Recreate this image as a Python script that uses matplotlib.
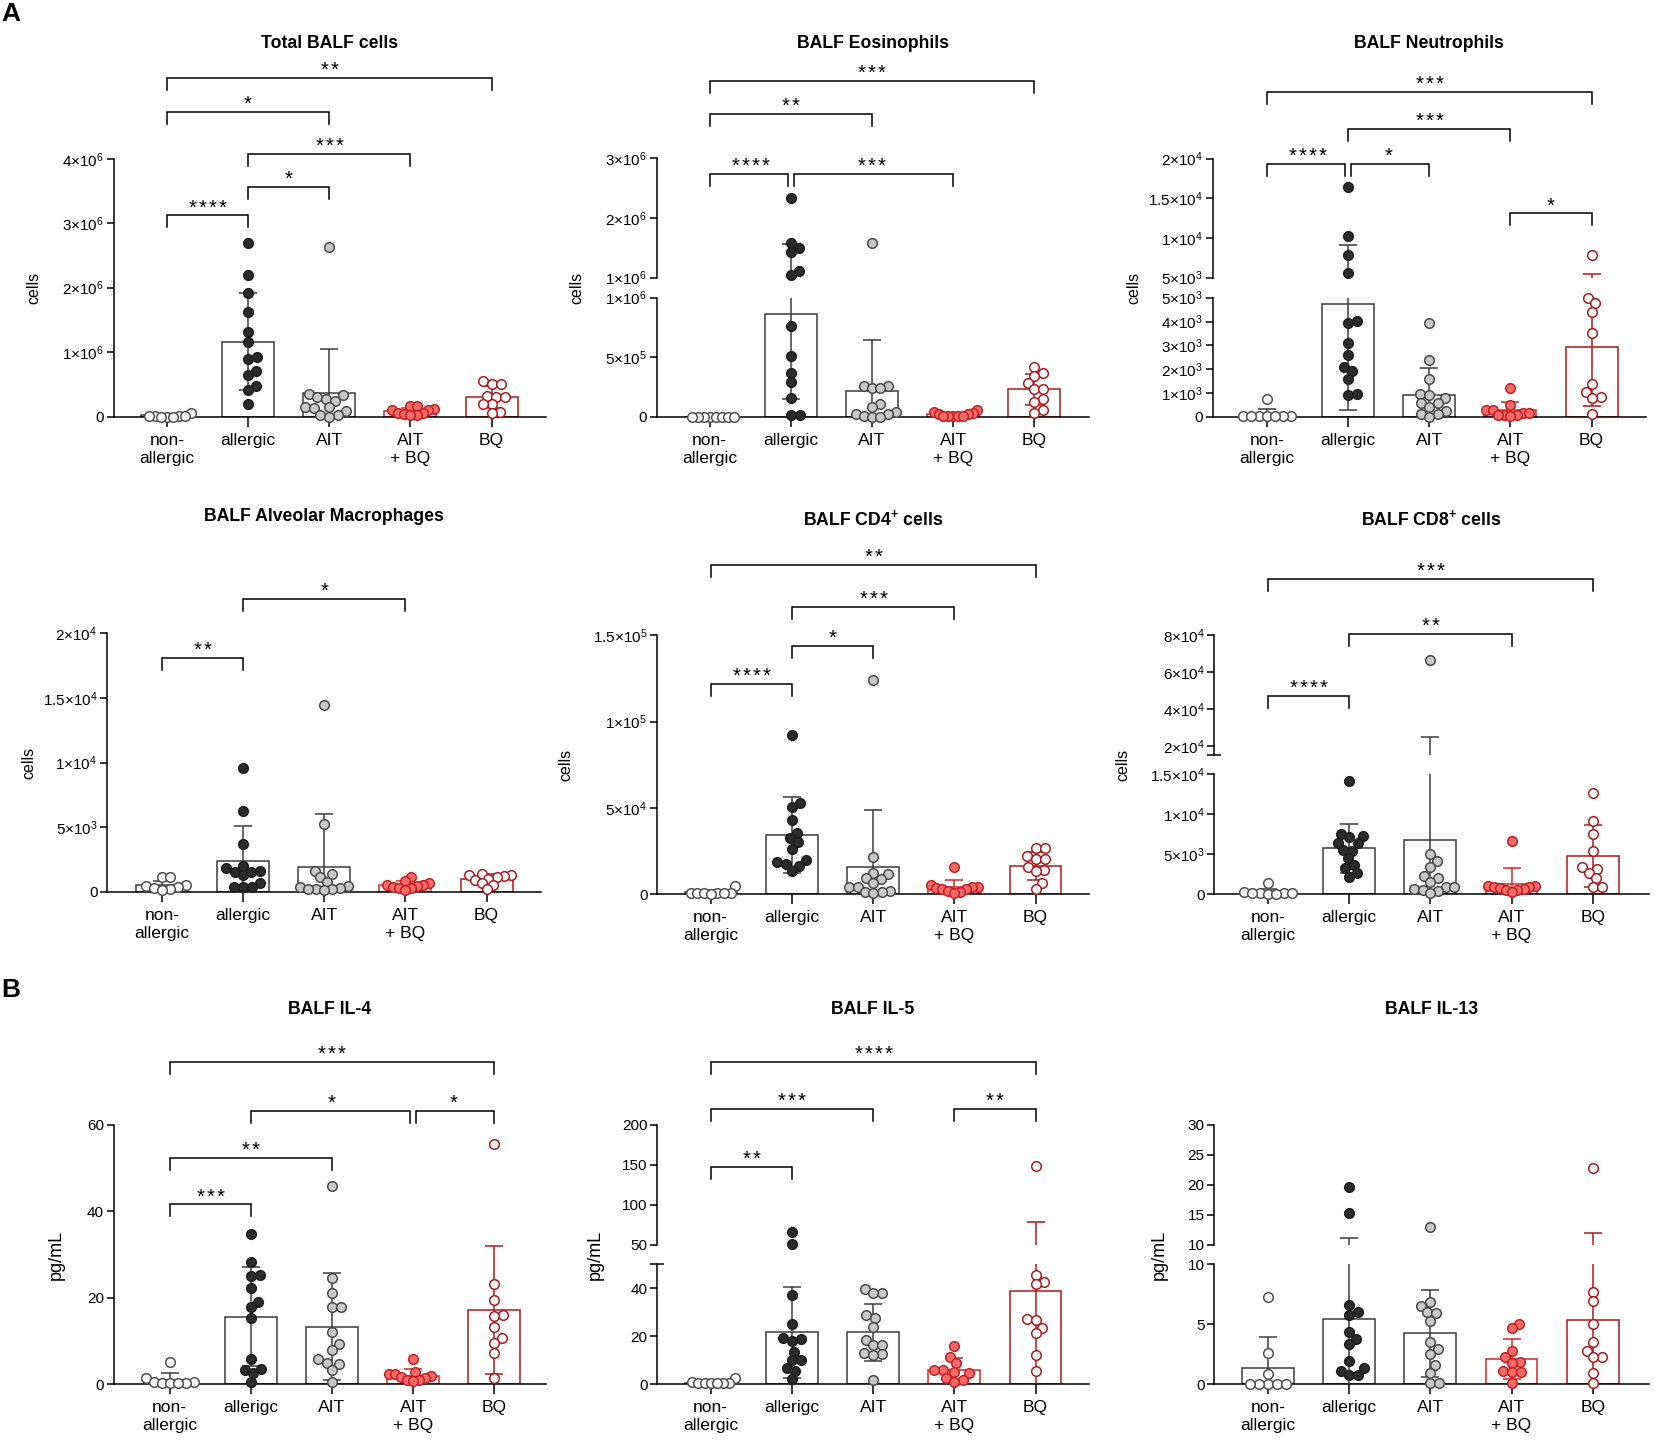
import numpy as np
import matplotlib
matplotlib.use('Agg')
import matplotlib.pyplot as plt

plt.rcParams['font.family'] = ['Liberation Sans', 'DejaVu Sans']
plt.rcParams['mathtext.fontset'] = 'custom'
plt.rcParams['mathtext.rm'] = 'Liberation Sans'
plt.rcParams['mathtext.it'] = 'Liberation Sans:italic'
plt.rcParams['mathtext.bf'] = 'Liberation Sans:bold'
plt.rcParams['axes.linewidth'] = 1.1

W, H = 1655, 1445
DC = 81.2  # px between categories

groups_cells = ['non-\nallergic', 'allergic', 'AIT', 'AIT\n+ BQ', 'BQ']
groups_cyto = ['non-\nallergic', 'allerigc', 'AIT', 'AIT\n+ BQ', 'BQ']

dot_face = ['white', '#2b2b2b', '#c8c8c8', '#f26b6b', 'white']
dot_edge = ['#505050', '#1e1e1e', '#4a4a4a', '#c81e1e', '#b0191e']
bar_edge = ['#3c3c3c', '#3c3c3c', '#3c3c3c', '#d02828', '#b0191e']

# ---------------- Total BALF cells
tot_non = [0.01e6, 0.05e6, 0.01e6, 0.0, 0.01e6, 0.0, 0.01e6, 0.0]
tot_all = [2.69e6, 2.20e6, 1.92e6, 1.62e6, 1.31e6, 1.16e6, 0.92e6, 0.89e6, 0.71e6, 0.64e6, 0.48e6, 0.42e6, 0.19e6]
tot_ait = [2.63e6, 0.35e6, 0.33e6, 0.30e6, 0.28e6, 0.25e6, 0.15e6, 0.15e6, 0.13e6, 0.09e6, 0.03e6, 0.03e6, 0.0]
tot_aitbq = [0.17e6, 0.17e6, 0.12e6, 0.10e6, 0.10e6, 0.05e6, 0.05e6, 0.04e6, 0.03e6, 0.02e6]
tot_bq = [0.55e6, 0.50e6, 0.50e6, 0.32e6, 0.31e6, 0.31e6, 0.19e6, 0.19e6, 0.08e6, 0.05e6]
tot_mean = [0.02e6, 1.165e6, 0.36e6, 0.09e6, 0.31e6]
tot_sd = [0.015e6, 0.75e6, 0.69e6, 0.05e6, 0.17e6]
tot_ticks = [[0, 1e6, 2e6, 3e6, 4e6]]
tot_brackets = [(0, 4, '**', 5.25e6), (0, 2, '*', 4.72e6), (1, 3, '***', 4.08e6),
                (1, 2, '*', 3.56e6), (0, 1, '****', 3.12e6)]

# ---------------- Eosinophils
eos_non = [0, 0, 0, 0, 0, 0, 0, 0]
eos_all = [2.335e6, 1.58e6, 1.49e6, 1.425e6, 1.117e6, 1.045e6, 0.762e6, 0.507e6, 0.37e6, 0.294e6, 0.154e6, 0.014e6, 0.014e6]
eos_ait = [1.58e6, 0.26e6, 0.26e6, 0.24e6, 0.24e6, 0.11e6, 0.08e6, 0.04e6, 0.02e6, 0.02e6, 0.01e6, 0.0, 0.0]
eos_aitbq = [0.06e6, 0.04e6, 0.03e6, 0.02e6, 0.02e6, 0.01e6, 0.01e6, 0.01e6, 0.01e6, 0.01e6]
eos_bq = [0.42e6, 0.37e6, 0.34e6, 0.28e6, 0.23e6, 0.23e6, 0.15e6, 0.12e6, 0.06e6, 0.03e6]
eos_mean = [0.0, 0.86e6, 0.216e6, 0.02e6, 0.23e6]
eos_sd = [0.0, 0.71e6, 0.43e6, 0.015e6, 0.13e6]
eos_ticks = [[0, 5e5, 1e6], [1e6, 2e6, 3e6]]
eos_brackets = [(0, 4, '***', 4.30e6), (0, 2, '**', 3.75e6), (0, 1, '****', 2.74e6), (1, 3, '***', 2.74e6)]

# ---------------- Neutrophils
neu_non = [730, 30, 30, 20, 20, 20, 10, 10]
neu_all = [16.4e3, 10.3e3, 7.8e3, 5.55e3, 4.03e3, 3.95e3, 3.11e3, 2.58e3, 2.09e3, 1.93e3, 1.6e3, 0.97e3, 0.92e3]
neu_ait = [3.95e3, 2.38e3, 1.58e3, 0.94e3, 0.91e3, 0.77e3, 0.56e3, 0.56e3, 0.42e3, 0.24e3, 0.10e3, 0.10e3, 0.0]
neu_aitbq = [1.22e3, 0.49e3, 0.30e3, 0.28e3, 0.14e3, 0.14e3, 0.07e3, 0.07e3, 0.06e3, 0.04e3]
neu_bq = [7.86e3, 5.0e3, 4.76e3, 4.41e3, 3.53e3, 1.36e3, 1.05e3, 0.81e3, 0.77e3, 0.1e3]
neu_mean = [110, 4.72e3, 0.91e3, 0.28e3, 2.94e3]
neu_sd = [230, 4.45e3, 1.13e3, 0.34e3, 2.5e3]
neu_ticks = [[0, 1e3, 2e3, 3e3, 4e3, 5e3], [5e3, 1e4, 1.5e4, 2e4]]
neu_brackets = [(0, 4, '***', 28.4e3), (1, 3, '***', 23.8e3), (0, 1, '****', 19.3e3),
                (1, 2, '*', 19.3e3), (3, 4, '*', 13.1e3)]

# ---------------- Alveolar macrophages
mac_non = [1.16e3, 1.16e3, 0.52e3, 0.44e3, 0.39e3, 0.26e3, 0.18e3, 0.13e3]
mac_all = [9.55e3, 6.27e3, 3.69e3, 2.01e3, 1.81e3, 1.63e3, 1.55e3, 1.55e3, 1.29e3, 0.70e3, 0.34e3, 0.34e3, 0.34e3]
mac_ait = [14.45e3, 5.24e3, 1.63e3, 1.34e3, 1.11e3, 0.77e3, 0.46e3, 0.34e3, 0.26e3, 0.20e3, 0.20e3, 0.18e3, 0.13e3]
mac_aitbq = [1.16e3, 0.85e3, 0.70e3, 0.52e3, 0.50e3, 0.46e3, 0.36e3, 0.30e3, 0.26e3, 0.10e3]
mac_bq = [1.4e3, 1.3e3, 1.3e3, 1.2e3, 1.1e3, 1.0e3, 0.9e3, 0.7e3, 0.5e3, 0.2e3]
mac_mean = [0.53e3, 2.37e3, 1.94e3, 0.55e3, 1.0e3]
mac_sd = [0.3e3, 2.7e3, 4.07e3, 0.3e3, 0.35e3]
mac_ticks = [[0, 5e3, 1e4, 1.5e4, 2e4]]
mac_brackets = [(1, 3, '*', 22.65e3), (0, 1, '**', 18.1e3)]

# ---------------- CD4+ cells
cd4_non = [4.6e3, 0.5e3, 0.5e3, 0.4e3, 0.3e3, 0.3e3, 0.3e3, 0.2e3]
cd4_all = [92.4e3, 52.6e3, 50.5e3, 42.7e3, 35.6e3, 32.3e3, 30.2e3, 26.3e3, 19.7e3, 18.8e3, 17.2e3, 16.4e3, 13.5e3]
cd4_ait = [124.3e3, 21.7e3, 12.4e3, 11.4e3, 9.1e3, 8.5e3, 6.2e3, 4.3e3, 3.9e3, 1.9e3, 1.0e3, 1.0e3, 0.4e3]
cd4_aitbq = [15.5e3, 5.2e3, 4.3e3, 3.9e3, 3.3e3, 2.7e3, 2.7e3, 1.9e3, 1.4e3, 0.5e3]
cd4_bq = [26.5e3, 26.5e3, 22.2e3, 20.3e3, 20.3e3, 15.9e3, 13.9e3, 13.5e3, 6.6e3, 3.1e3]
cd4_mean = [0.9e3, 34.2e3, 15.7e3, 4.2e3, 16.4e3]
cd4_sd = [1.5e3, 21.8e3, 33.2e3, 4.1e3, 8.2e3]
cd4_ticks = [[0, 5e4, 1e5, 1.5e5]]
cd4_brackets = [(0, 4, '**', 190.9e3), (1, 3, '***', 166.4e3), (1, 2, '*', 143.8e3), (0, 1, '****', 121.6e3)]

# ---------------- CD8+ cells
cd8_non = [1.34e3, 0.2e3, 0.1e3, 0.1e3, 0.1e3, 0.1e3, 0.05e3, 0.05e3]
cd8_all = [14.1e3, 7.52e3, 7.27e3, 7.1e3, 6.43e3, 6.35e3, 5.5e3, 5.43e3, 4.47e3, 3.64e3, 3.2e3, 2.6e3, 2.17e3]
cd8_ait = [66.5e3, 5.0e3, 4.18e3, 3.43e3, 2.26e3, 1.96e3, 1.55e3, 0.84e3, 0.84e3, 0.58e3, 0.5e3, 0.42e3, 0.08e3]
cd8_aitbq = [6.64e3, 1.0e3, 1.0e3, 0.9e3, 0.84e3, 0.7e3, 0.6e3, 0.5e3, 0.5e3, 0.3e3]
cd8_bq = [12.6e3, 9.2e3, 7.52e3, 5.43e3, 3.4e3, 3.1e3, 2.6e3, 1.96e3, 0.92e3, 0.92e3]
cd8_mean = [0.25e3, 5.72e3, 6.73e3, 1.25e3, 4.76e3]
cd8_sd = [0.4e3, 3.1e3, 18.0e3, 1.97e3, 3.9e3]
cd8_ticks = [[0, 5e3, 1e4, 1.5e4], [2e4, 4e4, 6e4, 8e4]]
cd8_brackets = [(0, 4, '***', 110.2e3), (1, 3, '**', 80.4e3), (0, 1, '****', 46.8e3)]

# ---------------- IL-4
il4_non = [5.0, 1.3, 0.5, 0.4, 0.3, 0.3, 0.2, 0.2]
il4_all = [34.7, 28.2, 25.2, 25.0, 22.2, 19.1, 17.9, 15.4, 5.7, 3.4, 3.2, 2.5, 0.5]
il4_ait = [45.9, 24.5, 21.0, 17.8, 17.8, 12.1, 9.3, 7.9, 5.7, 4.9, 4.6, 3.2, 0.5]
il4_aitbq = [5.8, 2.8, 2.4, 2.3, 1.9, 1.6, 1.3, 1.0, 0.9, 0.8]
il4_bq = [55.7, 23.2, 19.5, 16.0, 15.8, 13.1, 10.6, 9.4, 7.1, 1.5]
il4_mean = [0.9, 15.6, 13.3, 1.9, 17.1]
il4_sd = [1.65, 11.4, 12.3, 1.6, 14.8]
il4_ticks = [[0, 20, 40, 60]]
il4_brackets = [(0, 4, '***', 74.5), (1, 3, '*', 63.3), (3, 4, '*', 63.3), (0, 2, '**', 52.3), (0, 1, '***', 41.6)]

# ---------------- IL-5
il5_non = [2.4, 0.7, 0.6, 0.5, 0.5, 0.4, 0.3, 0.3]
il5_all = [65.8, 51.3, 37.2, 25.1, 19.1, 18.8, 18.1, 13.5, 10.0, 9.9, 6.6, 5.6, 2.1]
il5_ait = [39.7, 38.2, 37.9, 28.9, 27.7, 24.0, 18.4, 16.3, 16.3, 12.8, 12.4, 12.1, 1.7]
il5_aitbq = [16.0, 11.4, 8.6, 5.9, 5.9, 4.9, 4.5, 2.4, 1.7, 1.0]
il5_bq = [148.3, 45.6, 42.4, 41.7, 27.0, 26.6, 23.6, 21.2, 12.1, 5.6]
il5_mean = [0.6, 21.7, 21.7, 5.9, 39.0]
il5_sd = [0.7, 19.0, 11.9, 4.9, 40.2]
il5_ticks = [[0, 20, 40], [50, 100, 150, 200]]
il5_brackets = [(0, 4, '****', 279), (0, 2, '***', 219.6), (3, 4, '**', 219.6), (0, 1, '**', 147.1)]

# ---------------- IL-13
il13_non = [7.3, 2.56, 0.8, 0.0, 0.0, 0.0, 0.0, 0.0]
il13_all = [19.6, 15.4, 6.6, 6.0, 5.77, 4.32, 3.76, 3.31, 1.92, 1.31, 1.11, 0.75, 0.75]
il13_ait = [13.05, 6.88, 6.55, 6.0, 5.9, 5.3, 3.54, 2.9, 2.48, 1.59, 0.95, 0.05, 0.05]
il13_aitbq = [5.0, 4.65, 2.79, 2.28, 1.87, 1.73, 1.09, 0.97, 0.97, 0.06]
il13_bq = [22.8, 7.7, 6.9, 5.0, 3.48, 2.79, 2.28, 2.23, 0.89, 0.06]
il13_mean = [1.31, 5.4, 4.23, 2.09, 5.38]
il13_sd = [2.65, 5.8, 3.63, 1.67, 6.68]
il13_ticks = [[0, 5, 10], [10, 15, 20, 25, 30]]
il13_brackets = []


def sci(v):
    if v == 0:
        return '0'
    e = int(np.floor(np.log10(v)))
    m = v / 10 ** e
    return r'$\mathregular{%s{\times}10^{%d}}$' % (f'{m:g}', e)


def plain(v):
    return f'{v:g}'


# layout in px: spine x, axis end x, first category x, y segments (bottom, top),
# title y, ylabel distance from spine
panels = [
    dict(title='Total BALF cells', groups=groups_cells, ylabel='cells', fmt=sci,
         pts=[tot_non, tot_all, tot_ait, tot_aitbq, tot_bq], mean=tot_mean, sd=tot_sd,
         segs=[(0, 4e6)], ticks=tot_ticks, brackets=tot_brackets,
         lr=(113.6, 545.6), c0=166.8, px=[(416.7, 158.7)], ty=43, yoff=80),
    dict(title='BALF Eosinophils', groups=groups_cells, ylabel='cells', fmt=sci,
         pts=[eos_non, eos_all, eos_ait, eos_aitbq, eos_bq], mean=eos_mean, sd=eos_sd,
         segs=[(0, 1e6), (1e6, 3e6)], ticks=eos_ticks, brackets=eos_brackets,
         lr=(656.7, 1088.5), c0=709.6, px=[(416.7, 297.7), (277.7, 158.3)], ty=43, yoff=80),
    dict(title='BALF Neutrophils', groups=groups_cells, ylabel='cells', fmt=sci,
         pts=[neu_non, neu_all, neu_ait, neu_aitbq, neu_bq], mean=neu_mean, sd=neu_sd,
         segs=[(0, 5e3), (5e3, 2e4)], ticks=neu_ticks, brackets=neu_brackets,
         lr=(1212.5, 1646), c0=1266.8, px=[(416.7, 297.7), (277.7, 158.7)], ty=43, yoff=79),
    dict(title='BALF Alveolar Macrophages', groups=groups_cells, ylabel='cells', fmt=sci,
         pts=[mac_non, mac_all, mac_ait, mac_aitbq, mac_bq], mean=mac_mean, sd=mac_sd,
         segs=[(0, 2e4)], ticks=mac_ticks, brackets=mac_brackets,
         lr=(107.1, 541), c0=161.8, px=[(891.7, 633.3)], ty=517, yoff=78),
    dict(title=r'BALF CD4$\mathregular{^{+}}$ cells', groups=groups_cells, ylabel='cells', fmt=sci,
         pts=[cd4_non, cd4_all, cd4_ait, cd4_aitbq, cd4_bq], mean=cd4_mean, sd=cd4_sd,
         segs=[(0, 1.5e5)], ticks=cd4_ticks, brackets=cd4_brackets,
         lr=(657.1, 1089), c0=710.7, px=[(894, 635.3)], ty=519, yoff=91),
    dict(title=r'BALF CD8$\mathregular{^{+}}$ cells', groups=groups_cells, ylabel='cells', fmt=sci,
         pts=[cd8_non, cd8_all, cd8_ait, cd8_aitbq, cd8_bq], mean=cd8_mean, sd=cd8_sd,
         segs=[(0, 1.5e4), (1.5e4, 8e4)], ticks=cd8_ticks, brackets=cd8_brackets,
         lr=(1214.3, 1649), c0=1267.9, px=[(894, 774.3), (755, 635)], ty=519, yoff=91),
    dict(title='BALF IL-4', groups=groups_cyto, ylabel='pg/mL', fmt=plain,
         pts=[il4_non, il4_all, il4_ait, il4_aitbq, il4_bq], mean=il4_mean, sd=il4_sd,
         segs=[(0, 60)], ticks=il4_ticks, brackets=il4_brackets,
         lr=(113.6, 545.7), c0=169.6, px=[(1384, 1125)], ty=1009, yoff=57),
    dict(title='BALF IL-5', groups=groups_cyto, ylabel='pg/mL', fmt=plain,
         pts=[il5_non, il5_all, il5_ait, il5_aitbq, il5_bq], mean=il5_mean, sd=il5_sd,
         segs=[(0, 50), (50, 200)], ticks=il5_ticks, brackets=il5_brackets,
         lr=(657.1, 1089), c0=710.7, px=[(1384, 1264.3), (1245, 1125)], ty=1009, yoff=62),
    dict(title='BALF IL-13', groups=groups_cyto, ylabel='pg/mL', fmt=plain,
         pts=[il13_non, il13_all, il13_ait, il13_aitbq, il13_bq], mean=il13_mean, sd=il13_sd,
         segs=[(0, 10), (10, 30)], ticks=il13_ticks, brackets=il13_brackets,
         lr=(1214.3, 1649), c0=1267.9, px=[(1384, 1264.3), (1245, 1125)], ty=1009, yoff=55),
]

fig = plt.figure(figsize=(W / 100, H / 100), dpi=100)


def swarm(ypx, d):
    order = np.argsort(ypx, kind='stable')
    xs = np.zeros(len(ypx))
    done = []
    for k in order:
        blocked = []
        for j in done:
            dy = abs(ypx[k] - ypx[j])
            if dy < d:
                w = np.sqrt(d * d - dy * dy)
                blocked.append((xs[j] - w, xs[j] + w))
        cands = [0.0] + [b for iv in blocked for b in iv]
        cands.sort(key=lambda c: (abs(c), -c))
        for c in cands:
            if all(not (lo + 1e-6 < c < hi - 1e-6) for lo, hi in blocked):
                xs[k] = c
                break
        done.append(k)
    return xs


def draw_panel(p):
    L, R = p['lr']
    x = np.arange(5)
    axs = []
    for n, ((lo, hi), (yb, yt), tk) in enumerate(zip(p['segs'], p['px'], p['ticks'])):
        ax = fig.add_axes([L / W, 1 - yb / H, (R - L) / W, (yb - yt) / H])
        ax.set_xlim((L - p['c0']) / DC, (R - p['c0']) / DC)
        ax.set_ylim(lo, hi)
        ax.patch.set_alpha(0)
        ax.spines['top'].set_visible(False)
        ax.spines['right'].set_visible(False)
        ax.set_yticks(tk)
        ax.set_yticklabels([p['fmt'](v) for v in tk])
        ax.tick_params(axis='y', direction='out', length=5, width=1.1, pad=2, labelsize=11)
        if n == 0:
            ax.set_xticks(x)
            ax.set_xticklabels(p['groups'], fontsize=12.6, linespacing=1.25)
            ax.tick_params(axis='x', direction='out', length=7, width=1.1, pad=4.5)
        else:
            ax.spines['bottom'].set_visible(False)
            ax.set_xticks([])
        axs.append(ax)

    if len(axs) == 2:
        axs[0].set_yticks([p['segs'][0][1]], minor=True)
        axs[1].set_yticks([p['segs'][1][0]], minor=True)
        for ax in axs:
            ax.tick_params(axis='y', which='minor', direction='inout', length=9.5, width=1.1)

    for ax in axs:
        ax.bar(x, p['mean'], width=0.64, color='white', edgecolor=bar_edge, linewidth=1.1, zorder=2)
        for i in range(5):
            ax.errorbar(x[i], p['mean'][i], yerr=p['sd'][i], fmt='none', ecolor=bar_edge[i],
                        elinewidth=1.1, capsize=6.5, capthick=1.1, zorder=3)

    def pick(v):
        if len(axs) == 1 or v <= p['segs'][0][1]:
            return axs[0]
        return axs[1]

    t0 = axs[0].transData
    xscale = t0.transform((1, 0))[0] - t0.transform((0, 0))[0]
    for i, vals in enumerate(p['pts']):
        vals = np.asarray(vals, dtype=float)
        ypx = np.array([pick(v).transData.transform((0, v))[1] for v in vals])
        off = swarm(ypx, 9.0)
        m = np.abs(off).max()
        if m > 24:
            off = off * 24 / m
        owner = [pick(v) for v in vals]
        for ax in axs:
            sel = np.array([o is ax for o in owner])
            if sel.any():
                ax.scatter(i + off[sel] / xscale, vals[sel], s=48, facecolor=dot_face[i],
                           edgecolor=dot_edge[i], linewidth=1.1, zorder=5, clip_on=False)

    top = axs[-1]
    tr = top.transData
    pxu = tr.transform((0, 1))[1] - tr.transform((0, 0))[1]
    leg = 12 / pxu
    br = p['brackets']
    for i, j, lab, y in br:
        si = 0.035 if any(b[3] == y and b[1] == i for b in br) else 0
        sj = 0.035 if any(b[3] == y and b[0] == j for b in br) else 0
        top.plot([i + si, i + si, j - sj, j - sj], [y - leg, y, y, y - leg], color='black',
                 lw=1.1, clip_on=False, solid_joinstyle='miter', zorder=6)
        n = len(lab)
        for k in range(n):
            top.annotate('*', xy=((i + j) / 2, y), xytext=((k - (n - 1) / 2) * 7.2, 1.5),
                         textcoords='offset points', ha='center', va='baseline',
                         fontsize=14.5, annotation_clip=False)

    fig.text((L + R) / 2 / W, 1 - p['ty'] / H, p['title'], ha='center', va='center',
             fontsize=12.7, fontweight='bold')
    ymid = (p['px'][0][0] + p['px'][-1][1]) / 2
    fig.text((L - p['yoff']) / W, 1 - ymid / H, p['ylabel'], rotation=90, ha='center',
             va='center', fontsize=11.5 if p['ylabel'] == 'cells' else 13)


for p in panels:
    draw_panel(p)

fig.text(1 / W, 1 - 2 / H, 'A', fontsize=19, fontweight='bold', ha='left', va='top')
fig.text(1 / W, 1 - 978 / H, 'B', fontsize=19, fontweight='bold', ha='left', va='top')

fig.savefig('out.png', dpi=100)
